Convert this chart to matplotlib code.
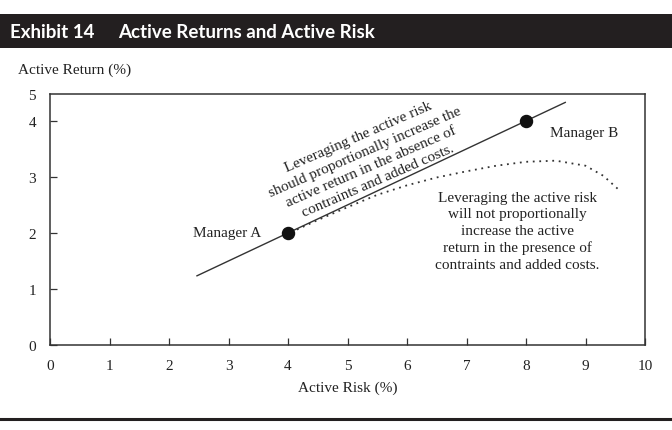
import matplotlib.pyplot as plt
from matplotlib.patches import Rectangle
from matplotlib.lines import Line2D

# dati
managers = ["Manager A", "Manager B"]
risk = [4, 8]
ret = [2, 4]

# retta "proporzionale"
line_x = [2.47, 8.66]
line_y = [1.235, 4.33]

# curva punteggiata (con vincoli e costi)
curve_x = [4.15, 4.5, 5.0, 5.5, 6.0, 6.5, 7.0, 7.5, 8.0, 8.5, 9.0, 9.3, 9.55]
curve_y = [2.06, 2.23, 2.46, 2.68, 2.85, 2.99, 3.10, 3.20, 3.27, 3.29, 3.20, 3.02, 2.78]

xticks = list(range(0, 11))
yticks = [0, 1, 2, 3, 4, 4.48]
ylabels = ["0", "1", "2", "3", "4", "5"]

plt.rcParams['font.family'] = ['Liberation Serif', 'DejaVu Serif']
W, H = 672, 431
fig = plt.figure(figsize=(W / 100, H / 100), dpi=100)

# barra del titolo
fig.add_artist(Rectangle((0, 1 - 49 / H), 1, 34 / H, transform=fig.transFigure,
                         facecolor='#231f20', edgecolor='none'))
fig.text(10 / W, 1 - 32 / H, "Exhibit 14", color='white', fontsize=13.5,
         fontweight='bold', family=['Lato', 'DejaVu Sans'], va='center', ha='left')
fig.text(118 / W, 1 - 32 / H, "Active Returns and Active Risk", color='white',
         fontsize=13.5, fontweight='bold', family=['Lato', 'DejaVu Sans'],
         va='center', ha='left')
fig.add_artist(Line2D([0, 1], [1 - 420 / H, 1 - 420 / H], transform=fig.transFigure,
                      color='#231f20', linewidth=2.2))

ax = fig.add_axes([50 / W, (H - 346) / H, 595 / W, 251 / H])
ax.set_xlim(0, 10)
ax.set_ylim(0, 4.48)
for s in ax.spines.values():
    s.set_color('#333333')
    s.set_linewidth(1.1)
ax.set_xticks(xticks)
ax.set_yticks(yticks)
ax.set_yticklabels(ylabels)
ax.tick_params(direction='in', length=5, width=0.9, color='#333333',
               labelsize=11, labelcolor='#222222')
ax.tick_params(axis='x', pad=10)
ax.tick_params(axis='y', pad=10)
ax.yaxis.get_major_ticks()[-1].tick1line.set_visible(False)

ax.plot(line_x, line_y, color='#333333', linewidth=1.0)
ax.plot(curve_x, curve_y, color='#333333', linewidth=1.3, linestyle=(0, (1, 2.6)))
ax.scatter(risk, ret, s=75, color='#111111', zorder=5)

ax.text(3.55, 2.0, managers[0], ha='right', va='center', fontsize=11, color='#222222')
ax.text(8.4, 3.8, managers[1], ha='left', va='center', fontsize=11, color='#222222')

ax.text(5.35, 3.33,
        "Leveraging the active risk\nshould proportionally increase the\n"
        "active return in the absence of\ncontraints and added costs.",
        ha='center', va='center', rotation=23.5, rotation_mode='anchor',
        fontsize=11, color='#222222', linespacing=1.3)
ax.text(7.85, 2.04,
        "Leveraging the active risk\nwill not proportionally\nincrease the active\n"
        "return in the presence of\ncontraints and added costs.",
        ha='center', va='center', fontsize=11, color='#222222', linespacing=1.35)

ax.set_xlabel("Active Risk (%)", fontsize=11, color='#222222', labelpad=6)
fig.text(18 / W, 1 - 70 / H, "Active Return (%)", fontsize=11, color='#222222',
         ha='left', va='center')

fig.savefig("out.png", dpi=100)
